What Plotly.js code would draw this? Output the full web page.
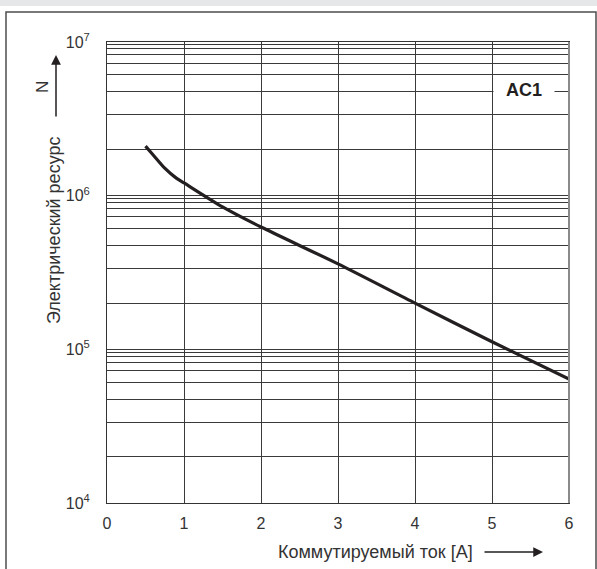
<!DOCTYPE html>
<html>
<head>
<meta charset="utf-8">
<script src="https://cdn.plot.ly/plotly-3.0.1.min.js"></script>
<style>html,body{margin:0;padding:0;background:#fff;}#chart{width:597px;height:569px;}</style>
</head>
<body>
<div id="chart"></div>
<script>
// Data
var current = [0.5, 0.6, 0.75, 0.9, 1, 1.5, 2, 3, 4, 5, 6];
var cycles = [2.1e6, 1.84e6, 1.51e6, 1.3e6, 1.21e6, 8.45e5, 6.25e5, 3.6e5, 2.0e5, 1.12e5, 6.4e4];
var xTicks = [0, 1, 2, 3, 4, 5, 6];
var decades = [4, 5, 6, 7];
var gridMantissas = [2, 3.35, 4.75, 6.1, 7.3, 8.25, 9.05, 9.6];

var yVals = [], yText = [], yMinor = [];
decades.forEach(function (d, i) {
  yVals.push(Math.pow(10, d));
  yText.push('10<sup>' + d + '</sup>');
  if (i < decades.length - 1) {
    gridMantissas.forEach(function (m) { yMinor.push(m * Math.pow(10, d)); });
  }
});

var W = 597, H = 569, L = 107, R = 28, T = 42, B = 66;
var pw = W - L - R, ph = H - T - B;
function px(x) { return (x - L) / pw; }
function py(y) { return (H - B - y) / ph; }

var font = 'Liberation Sans, Arial, sans-serif';
var ink = '#231f20';

var trace = {
  x: current, y: cycles, type: 'scatter', mode: 'lines',
  line: { color: ink, width: 3.2, shape: 'spline', smoothing: 0.7 },
  hoverinfo: 'skip'
};

var layout = {
  width: W, height: H,
  margin: { l: L, r: R, t: T, b: B, pad: 0 },
  paper_bgcolor: '#fff', plot_bgcolor: '#fff',
  showlegend: false,
  font: { family: font, color: ink, size: 15 },
  xaxis: {
    range: [0, 6], tickvals: xTicks, ticktext: xTicks.map(String),
    showgrid: true, gridcolor: '#3a3a3a', gridwidth: 1,
    showline: true, linecolor: '#333', linewidth: 1, mirror: true,
    ticks: '', zeroline: false, ticklabelstandoff: 6,
    tickfont: { family: font, size: 16, color: '#333' }, fixedrange: true
  },
  yaxis: {
    type: 'log', range: [4, 7], tickvals: yVals, ticktext: yText,
    showgrid: true, gridcolor: '#3a3a3a', gridwidth: 1,
    minor: { tickvals: yMinor, showgrid: true, gridcolor: '#3a3a3a', gridwidth: 1, ticks: '' },
    showline: true, linecolor: '#333', linewidth: 1, mirror: true,
    ticks: '', zeroline: false, ticklabelstandoff: 13,
    tickfont: { family: font, size: 16, color: '#333' }, fixedrange: true
  },
  shapes: [
    { type: 'rect', xref: 'paper', yref: 'paper', x0: px(0), x1: px(597), y0: py(6), y1: py(0),
      fillcolor: '#e6e7e8', line: { width: 0 }, layer: 'below' },
    { type: 'rect', xref: 'paper', yref: 'paper', x0: px(6), x1: px(596), y0: py(580), y1: py(12),
      fillcolor: 'rgba(0,0,0,0)', line: { color: '#4d4d4d', width: 1.5 } },
    { type: 'line', xref: 'paper', yref: 'paper', x0: 1, x1: 1, y0: 0, y1: 1,
      line: { color: '#8a8a8a', width: 2 } }
  ],
  annotations: [
    { xref: 'paper', yref: 'paper', x: px(54), y: py(231), text: 'Электрический ресурс',
      textangle: -90, showarrow: false, xanchor: 'center', yanchor: 'middle',
      font: { family: font, size: 18, color: '#333' } },
    { xref: 'paper', yref: 'paper', x: px(42), y: py(87), text: 'N',
      textangle: -90, showarrow: false, xanchor: 'center', yanchor: 'middle',
      font: { family: font, size: 17, color: '#333' } },
    { xref: 'paper', yref: 'paper', x: px(56), y: py(55), text: '',
      showarrow: true, ax: 0, ay: 63, arrowhead: 2, arrowsize: 1.3, arrowwidth: 1.5, arrowcolor: ink },
    { xref: 'paper', yref: 'paper', x: px(375.5), y: py(552), text: 'Коммутируемый ток [A]',
      showarrow: false, xanchor: 'center', yanchor: 'middle',
      font: { family: font, size: 18, color: '#333' } },
    { xref: 'paper', yref: 'paper', x: px(543), y: py(552), text: '',
      showarrow: true, ax: -60, ay: 0, arrowhead: 2, arrowsize: 1.3, arrowwidth: 1.5, arrowcolor: ink },
    { xref: 'paper', yref: 'paper', x: px(524), y: py(90), text: '<b>AC1</b>',
      showarrow: false, xanchor: 'center', yanchor: 'middle', width: 60, height: 22,
      bgcolor: '#fff', borderpad: 0,
      font: { family: font, size: 18, color: ink } }
  ]
};

Plotly.newPlot('chart', [trace], layout, { displayModeBar: false, staticPlot: true });
</script>
</body>
</html>
